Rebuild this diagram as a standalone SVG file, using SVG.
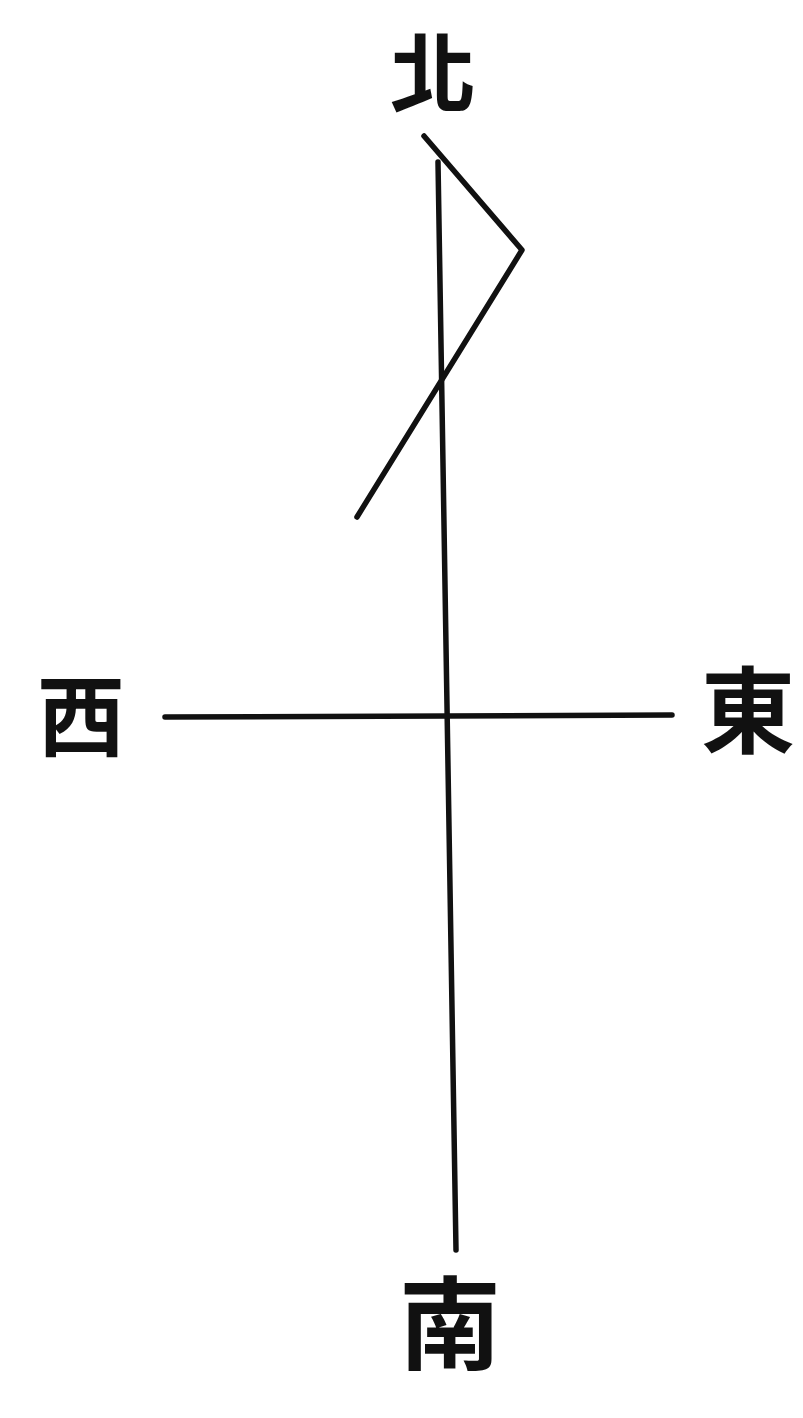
<svg xmlns="http://www.w3.org/2000/svg" width="803" height="1418" viewBox="0 0 803 1418">
<style>
.lbl{font-family:"Noto Sans CJK TC","Noto Sans CJK JP",sans-serif;font-weight:bold;fill:#111;text-anchor:middle}
.ln{stroke:#111;stroke-width:5.5;fill:none;stroke-linecap:round;stroke-linejoin:round}
</style>
<rect width="803" height="1418" fill="#fff"/>
<g id="connectors">
<line class="ln" x1="438" y1="162" x2="456" y2="1250"/>
<line class="ln" x1="165" y1="717" x2="672" y2="715"/>
<polyline class="ln" points="424,136 522,250 357,517"/>
</g>
<g id="north"><text class="lbl" x="433" y="106" font-size="86">北</text></g>
<g id="west"><text class="lbl" x="81" y="749" font-size="88">西</text></g>
<g id="east"><text class="lbl" x="748" y="746" font-size="94">東</text></g>
<g id="south"><text class="lbl" x="450" y="1362" font-size="102">南</text></g>
</svg>
